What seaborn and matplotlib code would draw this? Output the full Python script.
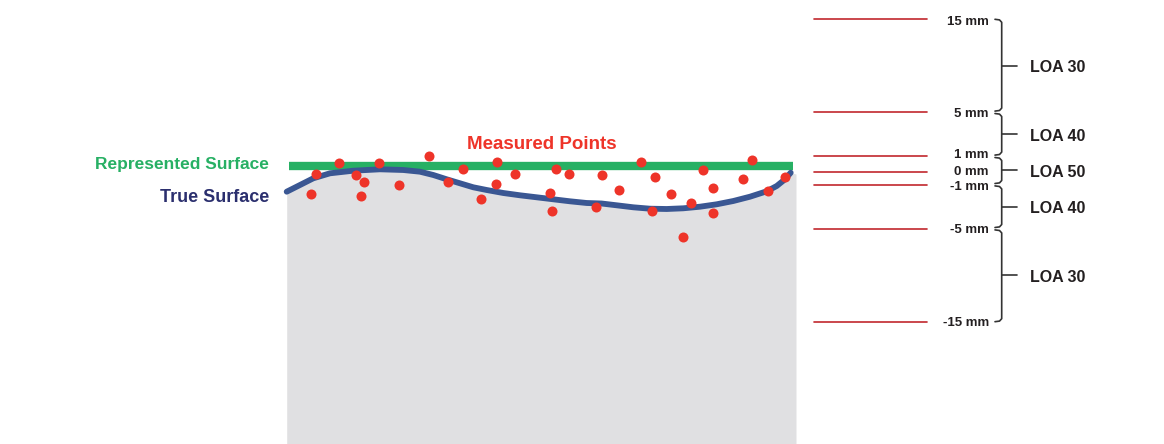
import numpy as np
import matplotlib
matplotlib.use("Agg")
import matplotlib.pyplot as plt
import seaborn as sns

# drawing is laid out in picture units (x across, depth downwards)
# true surface profile
surf_x = [286.7, 300, 313.3, 330, 353.3, 380, 403.3, 420, 433.3, 446.7,
          460, 473.3, 486.7, 503.3, 520, 536.7, 553.3, 570, 586.7, 601.5,
          616.7, 633.3, 650, 666.7, 683.3, 700, 716.7, 733.3, 750, 766.7,
          776.7, 785, 790.7]
surf_y = [191.7, 185, 178.3, 173.3, 170.7, 169.3, 170, 171.7, 175, 179.3,
          183.3, 187.3, 190, 193, 195.3, 197.3, 199.3, 201.3, 203, 203.5,
          205.3, 207.3, 208.7, 209, 208.3, 206.7, 204.3, 201, 196.7, 191.3,
          186, 179.3, 172.7]

# measured points (red dots)
pts_x = [315.7, 311.3, 339.3, 356, 364, 361, 379, 399.3, 429, 463.3,
         447.7, 481, 497.3, 496.3, 514.7, 555.7, 569.3, 550.3, 552, 601.7,
         595.7, 619, 641.3, 654.7, 671.3, 652, 682.7, 691, 703, 713,
         713, 743.3, 752.3, 768, 785.3]
pts_y = [174.3, 194.3, 162.7, 175, 181.7, 196, 163.3, 184.7, 156, 169,
         181.7, 199, 162, 184, 174, 168.7, 173.7, 192.7, 210.7, 174.7,
         206.7, 190.3, 162.3, 177, 194.3, 210.7, 237.3, 202.7, 170.3, 188,
         213.3, 178.7, 160.3, 190.7, 177.3]

# represented (fitted) surface
rep_x = [289, 793]
rep_y = [166, 166]

# accuracy levels
level_mm = [15, 5, 1, 0, -1, -5, -15]
level_px = [19.3, 112.3, 156.3, 171.7, 184.7, 228.7, 321.7]
level_nudge = [1, 0, -2.5, -1, 1, 0, 0]
level_labels = ["15 mm", "5 mm", "1 mm", "0 mm", "-1 mm", "-5 mm", "-15 mm"]

# LOA bands between levels
loa_top = [15, 5, 1, -1, -5]
loa_bot = [5, 1, -1, -5, -15]
loa_labels = ["LOA 30", "LOA 40", "LOA 50", "LOA 40", "LOA 30"]

sns.set_theme(style="white")
plt.rcParams["font.family"] = ["Liberation Sans", "DejaVu Sans"]

fig = plt.figure(figsize=(11.64, 4.44), dpi=100)
ax = fig.add_axes([0, 0, 1, 1])
ax.set_xlim(0, 1164)
ax.set_ylim(444, 0)
ax.axis("off")

GREEN = "#27b064"
BLUE = "#3a5793"
NAVY = "#2b2f6e"
RED = "#ee3429"
DARKRED = "#c1272d"
INK = "#231f20"

# grey body under the true surface
fx = list(surf_x) + [796]
fy = list(surf_y) + [174]
ax.fill_between(fx, fy, 444, color="#e0e0e2", lw=0, zorder=1)

# represented surface
ax.plot(rep_x, rep_y, color=GREEN, lw=6.0, solid_capstyle="butt", zorder=3)

# true surface
sns.lineplot(x=surf_x, y=surf_y, sort=False, color=BLUE, lw=4.2, ax=ax,
             zorder=4, legend=False)

# measured points
sns.scatterplot(x=pts_x, y=pts_y, color=RED, s=52, linewidth=0, ax=ax,
                zorder=5, legend=False)

ax.text(542, 149, "Measured Points", color=RED, fontsize=13.5,
        fontweight="bold", ha="center", va="baseline")
ax.text(269, 169, "Represented Surface", color=GREEN, fontsize=12.5,
        fontweight="bold", ha="right", va="baseline")
ax.text(269, 202.3, "True Surface", color=NAVY, fontsize=13,
        fontweight="bold", ha="right", va="baseline")

# level lines and labels
px_of = dict(zip(level_mm, level_px))
for mm, y, nud, lab in zip(level_mm, level_px, level_nudge, level_labels):
    ax.plot([814.3, 926.7], [y, y], color=DARKRED, lw=1.2, zorder=2)
    ax.text(989, y + 4.5 + nud, lab, color=INK, fontsize=9.5,
            fontweight="bold", ha="right", va="baseline")

# brackets
bx = 1001.7
for top, bot, lab in zip(loa_top, loa_bot, loa_labels):
    y0 = px_of[top] + (0 if top == 15 else 1.2)
    y1 = px_of[bot] - (0 if bot == -15 else 1.2)
    xs = [995, 999.5, bx, bx, 999.5, 995]
    ys = [y0, y0 + 0.6, y0 + 3, y1 - 3, y1 - 0.6, y1]
    ax.plot(xs, ys, color="#333333", lw=1.2, zorder=2)
    ym = (px_of[top] + px_of[bot]) / 2
    ax.plot([bx, 1016.7], [ym, ym], color="#333333", lw=1.2, zorder=2)
    ax.text(1030, ym + 6.5, lab, color=INK, fontsize=11.5,
            fontweight="bold", ha="left", va="baseline")

fig.savefig("out.png", dpi=100)
